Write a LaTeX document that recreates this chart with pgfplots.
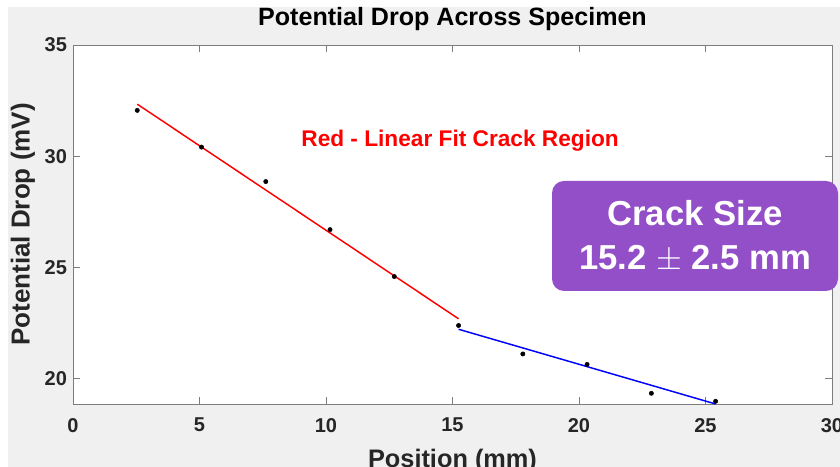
\documentclass[border=0pt]{standalone}
\usepackage{pgfplots}
\pgfplotsset{compat=1.18}
\usepackage{fontspec}
\setmainfont{Liberation Sans}
\definecolor{bgg}{RGB}{240,240,240}
\definecolor{axg}{RGB}{125,125,125}
\definecolor{txt}{RGB}{38,38,38}
\definecolor{purp}{RGB}{147,79,199}
\begin{document}
\begin{tikzpicture}[x=1pt,y=1pt]
\useasboundingbox (0,0) rectangle (630,350.25);
\fill[white] (0,0) rectangle (630,350.25);
\fill[bgg] (6,0) rectangle (630,345);
\begin{axis}[
  at={(54.75pt,47.25pt)}, anchor=south west,
  scale only axis, width=569.25pt, height=269.25pt,
  xmin=0, xmax=30, ymin=18.86, ymax=35,
  xtick={0,5,10,15,20,25,30}, ytick={20,25,30,35},
  axis background/.style={fill=white},
  axis line style={axg, line width=0.6pt},
  major tick style={axg, line width=0.6pt},
  major tick length=5pt,
  tick align=inside,
  /pgf/number format/assume math mode=true,
  ticklabel style={font=\fontsize{15}{18}\selectfont\bfseries, text=txt},
  xticklabel style={yshift=-7pt},
  yticklabel style={xshift=-1pt},
  title={Potential Drop Across Specimen},
  title style={font=\fontsize{18.8}{22}\selectfont\bfseries, text=black, at={(axis description cs:0.5,1.0334)}, anchor=base},
  xlabel={Position (mm)},
  xlabel style={font=\fontsize{19}{22}\selectfont\bfseries, text=txt, at={(axis description cs:0.5,-0.177)}, anchor=base},
  ylabel={Potential Drop (mV)},
  ylabel style={font=\fontsize{19.5}{22}\selectfont\bfseries, text=txt, at={(axis description cs:-0.0659,0.5)}, anchor=center},
  clip=false,
]
\addplot[red, line width=1.1pt] coordinates {(2.54,32.34) (15.24,22.69)};
\addplot[blue, line width=1.1pt] coordinates {(15.24,22.22) (25.40,18.86)};
\addplot[only marks, mark=*, mark size=1.6pt, black] coordinates {
(2.54,32.06) (5.08,30.41) (7.62,28.86) (10.16,26.70) (12.70,24.59)
(15.24,22.39) (17.78,21.11) (20.32,20.64) (22.86,19.34) (25.40,18.98)};
\node[text=red, font=\fontsize{17}{20}\selectfont\bfseries, anchor=base] at (axis description cs:0.51,0.7167) {Red - Linear Fit Crack Region};
\node[fill=purp, rounded corners=9pt, minimum width=214.5pt, minimum height=82.5pt, text=white, align=center, font=\fontsize{26}{33}\selectfont\bfseries, anchor=center] at (axis description cs:0.8195,0.468) {Crack Size\\15.2 $\pm$ 2.5 mm};
\end{axis}
\end{tikzpicture}
\end{document}
